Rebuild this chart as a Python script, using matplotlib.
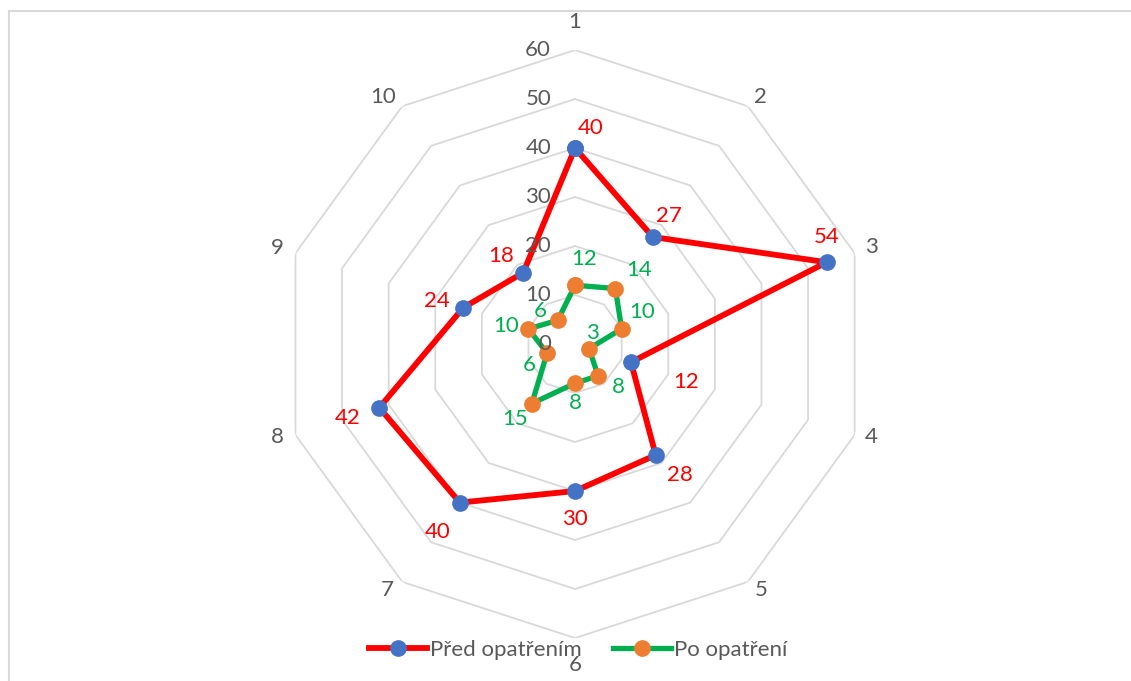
# radar - pred a po opatreni

from matplotlib import pyplot as plt
from matplotlib.lines import Line2D
import numpy as np

# data
osy = ['1', '2', '3', '4', '5', '6', '7', '8', '9', '10']
pred = [40, 27, 54, 12, 28, 30, 40, 42, 24, 18]
po = [12, 14, 10, 3, 8, 8, 15, 6, 10, 6]
kruhy = [0, 10, 20, 30, 40, 50, 60]
nazvy = ['Před opatřením', 'Po opatření']

# posuny popisku (pixely)
posun_pred = [(16, 20), (16, 21), (0, 25), (55, -20), (24, -20),
              (0, -28), (-22, -29), (-32, -10), (-26, 7), (-22, 17)]
posun_po = [(9, 26), (24, 19), (20, 17), (3, 16), (20, -11),
            (0, -20), (-17, -15), (-18, -12), (-22, 3), (-18, 9)]
posun_osy = [(0, 28), (13, 9), (17, 6), (17, -2), (13, -8),
             (0, -27), (-15, -8), (-18, -2), (-18, 5), (-19, 9)]

plt.rcParams['font.family'] = ['Lato', 'DejaVu Sans']
seda = '#595959'
fs = 16

fig = plt.figure(figsize=(11.31, 6.81), dpi=100)
ax = fig.add_axes([0.2485, 0.0631, 0.5199, 0.8634], projection='polar')
ax.set_theta_zero_location('N')
ax.set_theta_direction(-1)
ax.set_ylim(0, 60)
ax.grid(False)
ax.spines['polar'].set_visible(False)
ax.set_xticks([])
ax.set_yticks([])
ax.patch.set_visible(False)

theta = np.linspace(0, 2*np.pi, len(osy), endpoint=False)
theta_z = np.append(theta, theta[0])

# mrizka - desetiuhelniky
for r in kruhy[1:]:
    ax.plot(theta_z, [r]*len(theta_z), color='#D9D9D9', linewidth=1.3, zorder=1)

# popisky kruhu
for r in kruhy:
    ax.annotate(str(r), (0, r), xytext=(-24, 0), textcoords='offset pixels',
                ha='right', va='center', fontsize=fs, color=seda, zorder=5)

# popisky os
for t, s, o in zip(theta, osy, posun_osy):
    ax.annotate(s, (t, kruhy[-1]), xytext=o, textcoords='offset pixels',
                ha='center', va='center', fontsize=fs, color=seda,
                annotation_clip=False)

# serie
ax.plot(theta_z, pred + pred[:1], color='#FF0000', linewidth=4.2,
        marker='o', markersize=11, markerfacecolor='#4472C4',
        markeredgecolor='#4472C4', zorder=3, label=nazvy[0])
ax.plot(theta_z, po + po[:1], color='#00B050', linewidth=3.8,
        marker='o', markersize=11, markerfacecolor='#ED7D31',
        markeredgecolor='#ED7D31', zorder=3, label=nazvy[1])

# popisky hodnot
for t, v, o in zip(theta, pred, posun_pred):
    ax.annotate(str(v), (t, v), xytext=o, textcoords='offset pixels',
                ha='center', va='center', fontsize=fs, color='#FF0000')
for t, v, o in zip(theta, po, posun_po):
    ax.annotate(str(v), (t, v), xytext=o, textcoords='offset pixels',
                ha='center', va='center', fontsize=fs, color='#00B050')

# legenda
fig.legend(loc='center', bbox_to_anchor=(578/1131, 1 - 650/681), ncol=2,
           frameon=False, fontsize=fs, labelcolor=seda, handlelength=2.6,
           handletextpad=0.15, columnspacing=1.4)

# ramecek
fig.add_artist(Line2D([9/1131, 9/1131], [0, 1 - 11/681], color='#D9D9D9',
                      linewidth=1.5, transform=fig.transFigure))
fig.add_artist(Line2D([9/1131, 1], [1 - 11/681, 1 - 11/681], color='#D9D9D9',
                      linewidth=1.5, transform=fig.transFigure))

fig.savefig('out.png', dpi=100)
